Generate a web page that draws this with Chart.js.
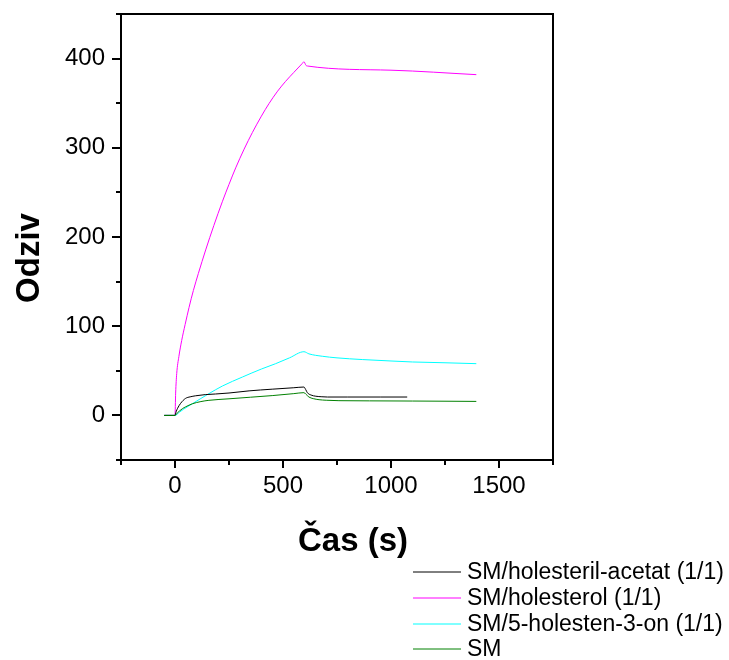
<!DOCTYPE html>
<html>
<head>
<meta charset="utf-8">
<script src="https://cdn.jsdelivr.net/npm/chart.js@4"></script>
<style>
  body { margin: 0; background: #fff; }
</style>
</head>
<body>
<canvas id="myChart" width="729" height="660"></canvas>
<script>
var seriesNames = ["SM/holesteril-acetat (1/1)", "SM/holesterol (1/1)", "SM/5-holesten-3-on (1/1)", "SM"];
var seriesColors = ["#000000", "#ff00ff", "#00ffff", "#008000"];

// time (s) and response for each curve
var acetatT = [-50, 0, 5, 12, 26, 49, 70, 96, 140, 188, 250, 343, 450, 550, 597, 605, 613, 630, 652, 680, 706, 800, 950, 1075];
var acetatY = [0, 0, 4, 8, 13.5, 19.1, 20.8, 22, 23.3, 24, 25.1, 27.5, 29.4, 31, 31.8, 29, 25.4, 22.8, 21.5, 20.9, 20.6, 20.6, 20.6, 20.6];

var holT = [-50, 0, 3, 8, 18, 31, 47, 65, 85, 108, 142, 180, 219, 250, 281, 320, 358, 400, 435, 475, 512, 550, 589, 597, 606, 613, 1000, 1395];
var holY = [0, 0, 25, 47, 66, 84, 102, 121, 140, 159, 185.5, 213, 239.5, 259, 277.5, 298.5, 317, 335.5, 349.5, 363.5, 374.5, 384.5, 394.5, 396.5, 392.5, 391.7, 387, 382];

var onT = [-50, 0, 20, 40, 80, 120, 157, 220, 312, 400, 466, 530, 597, 620, 682, 750, 867, 1000, 1099, 1250, 1395];
var onY = [0, 0, 3.5, 7, 13, 19, 24.4, 33, 43, 52, 58, 64.5, 71.4, 69, 66.3, 64.5, 62.6, 61, 59.9, 59, 58];

var smT = [-50, 0, 10, 20, 34, 50, 80, 120, 157, 250, 350, 450, 550, 597, 605, 620, 640, 667, 700, 759, 900, 1099, 1250, 1395];
var smY = [0, 0, 2.5, 4.8, 7.5, 9.7, 13, 15.5, 16.9, 18.6, 20.4, 22.2, 24.4, 25.5, 24, 20.6, 18.8, 17.6, 17, 16.5, 16.3, 16.1, 15.9, 15.7];

var xMin = -250, xMax = 1750, xStep = 250, xLabelStep = 500;
var yMin = -50, yMax = 450, yStep = 50, yLabelStep = 100;

function pts(t, y) {
  return t.map(function(v, i) { return { x: v, y: y[i] }; });
}

var fontFam = "'Liberation Sans', Arial, sans-serif";
Chart.defaults.font.family = fontFam;
Chart.defaults.color = "#000";

// fixed scale size, no extra label padding
function fixSize(w, h) {
  return function(s) {
    if (w) s.width = w;
    if (h) s.height = h;
    s.paddingTop = 0; s.paddingBottom = 0;
    s.paddingLeft = 0; s.paddingRight = 0;
  };
}

// frame, outward ticks (major + minor), axis titles, legend
var decor = {
  id: "decor",
  afterDraw: function(chart) {
    var ctx = chart.ctx, a = chart.chartArea;
    var xs = chart.scales.x, ys = chart.scales.y;
    ctx.save();
    ctx.strokeStyle = "#000";
    ctx.lineWidth = 2;
    ctx.strokeRect(a.left, a.top, a.right - a.left, a.bottom - a.top);

    ctx.beginPath();
    for (var v = yMin; v <= yMax; v += yStep) {
      var py = Math.round(ys.getPixelForValue(v));
      var len = v % yLabelStep === 0 ? 9 : 5;
      ctx.moveTo(a.left - len, py);
      ctx.lineTo(a.left, py);
    }
    for (var u = xMin; u <= xMax; u += xStep) {
      var px = Math.round(xs.getPixelForValue(u));
      var l2 = u % xLabelStep === 0 ? 8 : 5;
      ctx.moveTo(px, a.bottom);
      ctx.lineTo(px, a.bottom + l2);
    }
    ctx.stroke();

    ctx.fillStyle = "#000";
    ctx.textBaseline = "alphabetic";
    ctx.textAlign = "center";
    ctx.font = "bold 33px " + fontFam;
    ctx.fillText("Čas (s)", 353, 550.5);

    ctx.save();
    ctx.translate(38.5, 258);
    ctx.rotate(-Math.PI / 2);
    ctx.font = "bold 33px " + fontFam;
    ctx.fillText("Odziv", 0, 0);
    ctx.restore();

    // legend
    ctx.font = "23px " + fontFam;
    ctx.textAlign = "left";
    ctx.lineWidth = 1;
    chart.data.datasets.forEach(function(ds, i) {
      var ly = Math.round(572 + i * 25.8);
      ctx.strokeStyle = ds.borderColor;
      ctx.beginPath();
      ctx.moveTo(413, ly);
      ctx.lineTo(461, ly);
      ctx.stroke();
      ctx.fillText(ds.label, 467, 579 + i * 25.8);
    });
    ctx.restore();
  }
};

new Chart("myChart", {
  type: "line",
  data: {
    datasets: [
      { label: seriesNames[0], data: pts(acetatT, acetatY), borderColor: seriesColors[0], order: 1 },
      { label: seriesNames[1], data: pts(holT, holY), borderColor: seriesColors[1], order: 3 },
      { label: seriesNames[2], data: pts(onT, onY), borderColor: seriesColors[2], order: 2 },
      { label: seriesNames[3], data: pts(smT, smY), borderColor: seriesColors[3], order: 0 }
    ]
  },
  options: {
    responsive: false,
    animation: false,
    devicePixelRatio: 1,
    layout: { padding: { left: 0, top: 14, right: 176, bottom: 160 } },
    elements: {
      point: { radius: 0 },
      line: { borderWidth: 1, fill: false, cubicInterpolationMode: "monotone" }
    },
    plugins: {
      legend: { display: false },
      tooltip: { enabled: false }
    },
    scales: {
      x: {
        type: "linear",
        min: xMin,
        max: xMax,
        border: { display: false },
        grid: { drawOnChartArea: false, color: "rgba(0,0,0,0)", tickLength: 8 },
        ticks: {
          stepSize: xStep,
          autoSkip: false,
          maxRotation: 0,
          padding: 4,
          font: { size: 24 },
          callback: function(v) { return v % xLabelStep === 0 ? v : ""; }
        },
        afterFit: fixSize(0, 40)
      },
      y: {
        min: yMin,
        max: yMax,
        border: { display: false },
        grid: { drawOnChartArea: false, color: "rgba(0,0,0,0)", tickLength: 9 },
        ticks: {
          stepSize: yStep,
          autoSkip: false,
          padding: 7,
          font: { size: 24 },
          callback: function(v) { return v % yLabelStep === 0 ? v : ""; }
        },
        afterFit: fixSize(121, 0)
      }
    }
  },
  plugins: [decor]
});
</script>
</body>
</html>
